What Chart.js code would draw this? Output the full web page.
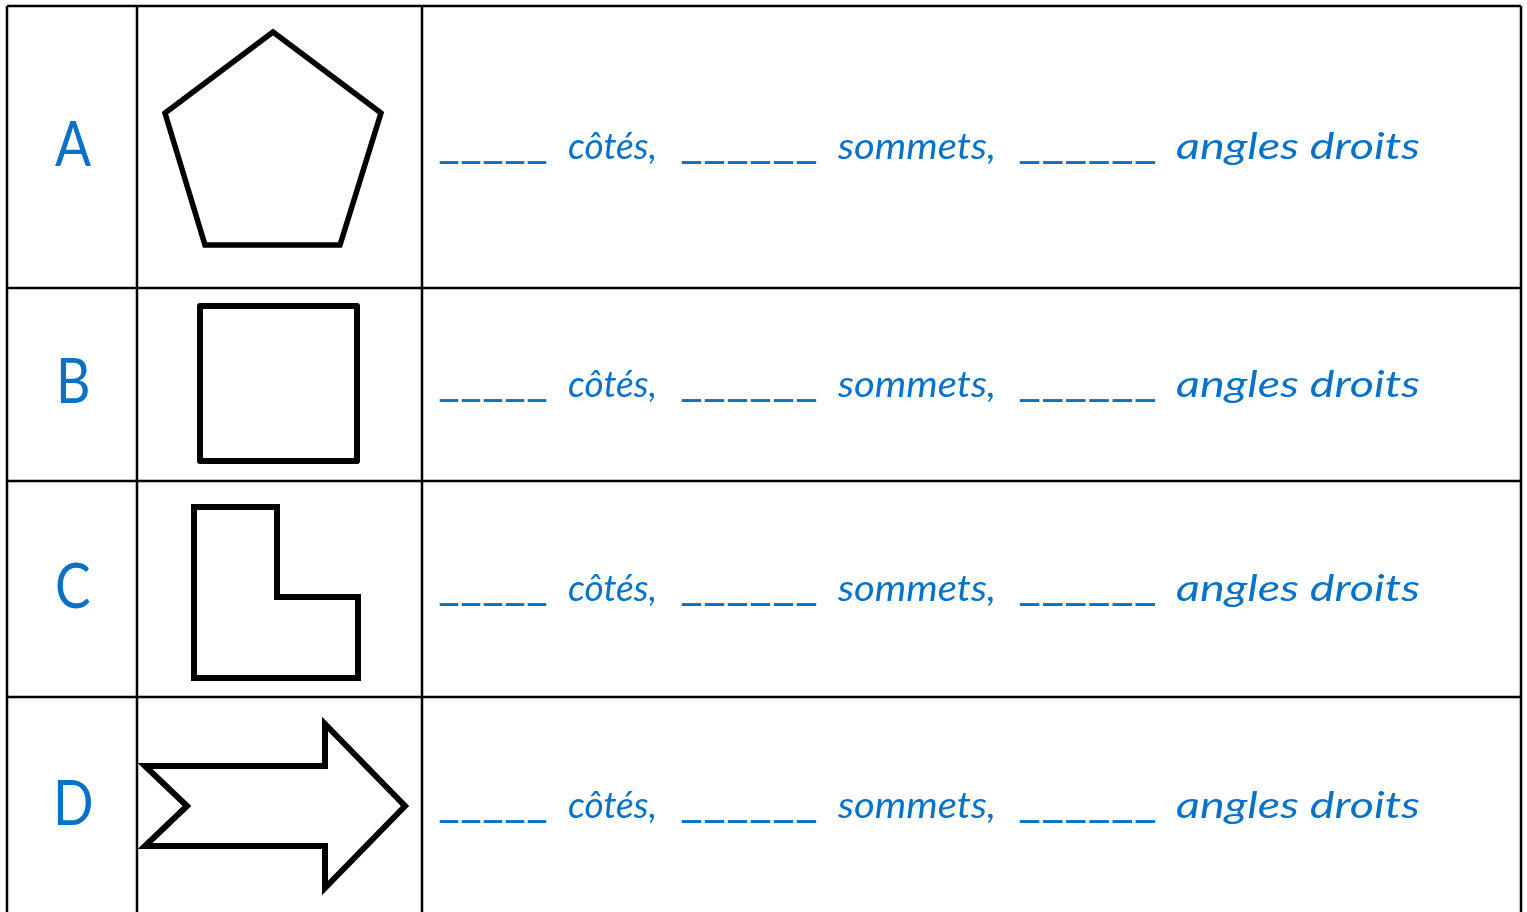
<!DOCTYPE html>
<html>
<head>
<meta charset="utf-8">
<script src="https://cdn.jsdelivr.net/npm/chart.js@4.4.1/dist/chart.umd.min.js"></script>
<style>
  html, body { margin: 0; padding: 0; background: #fff; overflow: hidden; }
  #wrap  { position: relative; width: 1527px; height: 912px; }
  #sheet { position: absolute; left: 0; top: 0; }
  .txt   { position: absolute; white-space: pre; color: #0a72c4; transform-origin: 0 0; }
</style>
</head>
<body>
<div id="wrap"><canvas id="sheet" width="1527" height="912"></canvas></div>
<script>
/* ---- data: the worksheet content ---- */
const rowLetters = ['A', 'B', 'C', 'D'];
const sentence   = ['_____', 'côtés,', '______', 'sommets,', '______', 'angles droits'];

// table rules, in sheet units
const colEdges = [7, 137, 422, 1521];
const rowEdges = [6, 288, 481, 697];
const sheetBottom = 912;

// shape outlines (one per row)
const pentagon = [[273, 32], [381, 113], [340, 245], [205, 245], [165, 113]];
const square   = [[200, 306], [357, 306], [357, 461], [200, 461]];
const lShape   = [[194, 507], [277, 507], [277, 597], [358, 597], [358, 678], [194, 678]];
const arrow    = [[145, 766], [325, 766], [325, 724], [405, 806], [325, 888], [325, 846], [145, 846], [187, 806]];

/* ---- layout ---- */
const INK  = '#000000';
const letterX        = 73;
const letterSquash   = 0.86;
const letterBaseline = [166, 403, 608, 825];
const lineBaseline   = [159, 397, 601, 818];
const wordSpans      = [[438, 548], [568, 657], [680, 818], [838, 996], [1018, 1157], [1176, 1420]];

function segment(label, a, b) {
  return {
    label, data: [{ x: a[0], y: a[1] }, { x: b[0], y: b[1] }],
    borderColor: INK, borderWidth: 2.5, pointRadius: 0, fill: false, tension: 0
  };
}

// closed polygon: repeat the first two points so the start corner gets a proper join
function outline(label, pts, width, join) {
  const ring = pts.concat([pts[0], pts[1]]);
  return {
    label, data: ring.map(p => ({ x: p[0], y: p[1] })),
    borderColor: INK, borderWidth: width, borderJoinStyle: join || 'miter',
    pointRadius: 0, fill: false, tension: 0
  };
}

const datasets = [];
colEdges.forEach((x, i) => datasets.push(segment('col' + i, [x, rowEdges[0]], [x, sheetBottom])));
rowEdges.forEach((y, i) => datasets.push(segment('row' + i, [colEdges[0], y], [colEdges[3], y])));
datasets.push(outline('pentagon', pentagon, 5.5));
datasets.push(outline('square', square, 6, 'round'));
datasets.push(outline('L', lShape, 6));
datasets.push(outline('arrow', arrow, 6));

new Chart(document.getElementById('sheet'), {
  type: 'line',
  data: { datasets },
  options: {
    responsive: false,
    animation: false,
    layout: { padding: 0 },
    plugins: { legend: { display: false }, tooltip: { enabled: false } },
    scales: {
      x: { type: 'linear', min: 0, max: 1527, display: false },
      y: { type: 'linear', min: 0, max: 912, reverse: true, display: false }
    }
  }
});

/* ---- text, as real HTML text placed on baselines ---- */
const wrap = document.getElementById('wrap');
const meter = document.createElement('canvas').getContext('2d');

function placeText(str, font, size, baseline, left, width, squash) {
  const span = document.createElement('span');
  span.className = 'txt';
  span.textContent = str;
  span.style.font = font;
  span.style.lineHeight = size + 'px';
  wrap.appendChild(span);

  meter.font = font;
  const m = meter.measureText(str);
  const asc = m.fontBoundingBoxAscent, desc = m.fontBoundingBoxDescent;
  span.style.top = (baseline - ((size - (asc + desc)) / 2 + asc)) + 'px';

  const w = span.getBoundingClientRect().width;
  if (width == null) {
    span.style.left = (left - w * squash / 2) + 'px';
    span.style.transform = 'scaleX(' + squash + ')';
  } else {
    span.style.left = left + 'px';
    span.style.transform = 'scaleX(' + (width / w) + ')';
  }
}

document.fonts.ready.then(() => {
  rowLetters.forEach((ch, r) => {
    placeText(ch, '400 62px Lato', 62, letterBaseline[r], letterX, null, letterSquash);
    sentence.forEach((word, k) => {
      const [a, b] = wordSpans[k];
      const blank = word.startsWith('_');
      const font = (blank ? '700 ' : 'italic 400 ') + '36px Lato';
      placeText(word, font, 36, lineBaseline[r], a, b - a);
    });
  });
});
</script>
</body>
</html>
